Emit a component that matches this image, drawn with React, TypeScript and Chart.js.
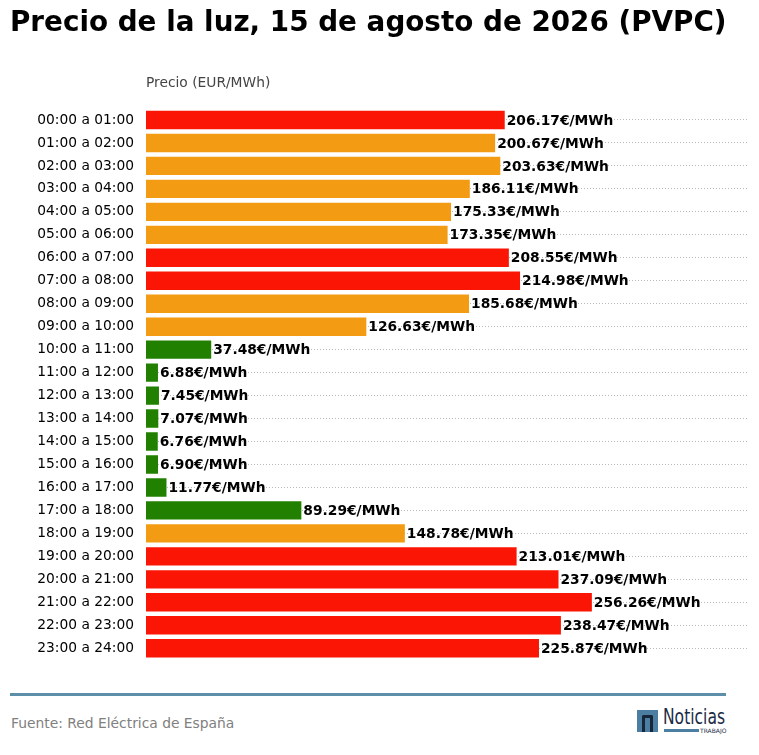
import { useEffect, useRef } from "react"
import { Chart, registerables } from "chart.js"

Chart.register(...registerables)

const hours = [
  "00:00 a 01:00", "01:00 a 02:00", "02:00 a 03:00", "03:00 a 04:00",
  "04:00 a 05:00", "05:00 a 06:00", "06:00 a 07:00", "07:00 a 08:00",
  "08:00 a 09:00", "09:00 a 10:00", "10:00 a 11:00", "11:00 a 12:00",
  "12:00 a 13:00", "13:00 a 14:00", "14:00 a 15:00", "15:00 a 16:00",
  "16:00 a 17:00", "17:00 a 18:00", "18:00 a 19:00", "19:00 a 20:00",
  "20:00 a 21:00", "21:00 a 22:00", "22:00 a 23:00", "23:00 a 24:00",
]

const prices = [
  206.17, 200.67, 203.63, 186.11, 175.33, 173.35, 208.55, 214.98,
  185.68, 126.63, 37.48, 6.88, 7.45, 7.07, 6.76, 6.9,
  11.77, 89.29, 148.78, 213.01, 237.09, 256.26, 238.47, 225.87,
]

const RED = "#fa1505"
const ORANGE = "#f39c13"
const GREEN = "#218000"

function priceColor(v: number) {
  if (v >= 205) return RED
  if (v >= 100) return ORANGE
  return GREEN
}

const FONT = "'DejaVu Sans', sans-serif"

const barLabels = {
  id: "barLabels",
  afterDatasetsDraw(chart: Chart) {
    const { ctx } = chart
    const meta = chart.getDatasetMeta(0)
    ctx.save()
    ctx.font = `bold 13.8px ${FONT}`
    ctx.fillStyle = "#000"
    ctx.textAlign = "left"
    ctx.textBaseline = "middle"
    meta.data.forEach((bar: any, i) => {
      ctx.fillText(`${prices[i].toFixed(2)}€/MWh`, bar.x + 2, bar.y + 1)
    })
    ctx.restore()
  },
}

function PriceChart() {
  const canvasRef = useRef<HTMLCanvasElement>(null)
  const chartRef = useRef<Chart | null>(null)

  useEffect(() => {
    if (!canvasRef.current) return
    if (chartRef.current) chartRef.current.destroy()

    chartRef.current = new Chart(canvasRef.current, {
      type: "bar",
      data: {
        labels: hours,
        datasets: [
          {
            data: prices,
            backgroundColor: prices.map(priceColor),
            barPercentage: 0.8,
            categoryPercentage: 1,
          },
        ],
      },
      options: {
        indexAxis: "y",
        responsive: false,
        animation: false,
        layout: { padding: { left: 0, right: 11, top: 0, bottom: 10.5 } },
        plugins: {
          legend: { display: false },
          tooltip: { enabled: false },
        },
        scales: {
          x: {
            position: "top",
            min: 0,
            max: 346,
            ticks: { display: false },
            grid: { display: false },
            border: { display: false },
            title: {
              display: true,
              text: "Precio (EUR/MWh)",
              align: "start",
              color: "#444",
              font: { family: FONT, size: 13.8 },
              padding: { top: 75.5, bottom: 0 },
            },
            afterFit: (scale: any) => {
              scale.height = 108.5
            },
          },
          y: {
            ticks: {
              color: "#000",
              font: { family: FONT, size: 13.8 },
              padding: 12,
            },
            grid: {
              offset: false,
              drawTicks: false,
              color: "#b8b8b8",
              lineWidth: 1,
            },
            border: { display: false, dash: [1, 2] },
            afterFit: (scale: any) => {
              scale.width = 146
            },
          },
        },
      },
      plugins: [barLabels],
    })

    return () => {
      if (chartRef.current) {
        chartRef.current.destroy()
        chartRef.current = null
      }
    }
  }, [])

  return <canvas ref={canvasRef} width={759} height={680} />
}

export default function App() {
  return (
    <div
      style={{
        position: "absolute",
        left: 0,
        top: 0,
        width: 759,
        height: 755,
        background: "#fff",
        fontFamily: FONT,
        overflow: "hidden",
      }}
    >
      <div style={{ position: "absolute", left: 0, top: 0 }}>
        <PriceChart />
      </div>
      <div
        style={{
          position: "absolute",
          left: 10,
          top: 4,
          fontSize: 27.8,
          fontWeight: "bold",
          color: "#000",
          whiteSpace: "nowrap",
          lineHeight: "36px",
        }}
      >
        Precio de la luz, 15 de agosto de 2026 (PVPC)
      </div>
      <div
        style={{
          position: "absolute",
          left: 10,
          top: 693,
          width: 716,
          height: 3,
          background: "#5d8fa9",
        }}
      />
      <div
        style={{
          position: "absolute",
          left: 11,
          top: 715,
          fontSize: 13.85,
          color: "#808080",
          whiteSpace: "nowrap",
        }}
      >
        Fuente: Red Eléctrica de España
      </div>
      <div
        style={{
          position: "absolute",
          left: 637,
          top: 710,
          width: 21,
          height: 22,
          background: "#4b7ea1",
        }}
      >
        <div
          style={{
            position: "absolute",
            left: 5,
            top: 5,
            width: 11,
            height: 17,
            border: "3.5px solid #18263a",
            borderBottom: "none",
            borderRadius: "2px 2px 0 0",
            boxSizing: "border-box",
          }}
        />
      </div>
      <div
        style={{
          position: "absolute",
          left: 663,
          top: 705,
          fontFamily: "'DejaVu Sans', sans-serif",
          fontSize: 21,
          color: "#1c2b46",
          whiteSpace: "nowrap",
          lineHeight: "24px",
          transform: "scaleX(0.74)",
          transformOrigin: "left top",
        }}
      >
        Noticias
      </div>
      <div
        style={{
          position: "absolute",
          left: 664,
          top: 729,
          width: 35,
          height: 3,
          background: "#4b7ea1",
        }}
      />
      <div
        style={{
          position: "absolute",
          left: 700,
          top: 727,
          fontSize: 6,
          color: "#1c2b46",
          whiteSpace: "nowrap",
          lineHeight: "7px",
        }}
      >
        TRABAJO
      </div>
    </div>
  )
}
